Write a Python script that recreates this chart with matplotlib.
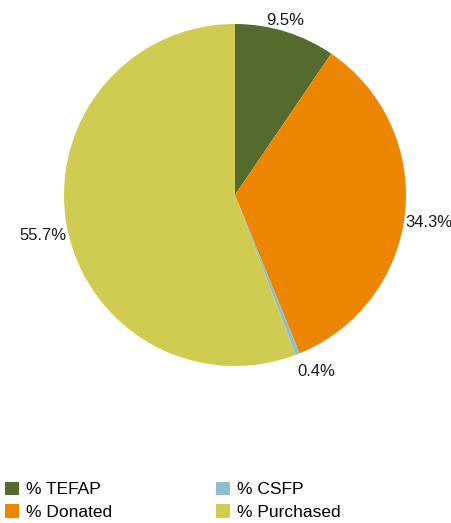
import numpy as np
import matplotlib.pyplot as plt

# share of food by source
categories = ['% TEFAP', '% Donated', '% CSFP', '% Purchased']
shares = [9.5, 34.3, 0.4, 55.7]
colors = ['#546B2D', '#EC8500', '#8DBFCD', '#D0CB51']

plt.rcParams['font.family'] = ['Liberation Sans', 'DejaVu Sans']

fig = plt.figure(figsize=(4.52, 5.23), dpi=100)
ax = fig.add_axes([64 / 452, 157 / 523, 342 / 452, 342 / 523])

wedges, _ = ax.pie(shares, colors=colors, startangle=90, counterclock=False,
                   radius=1, wedgeprops=dict(linewidth=0))
ax.set_xlim(-1, 1)
ax.set_ylim(-1, 1)
ax.set_aspect('equal')

# excel-like outside labels
for w, val in zip(wedges, shares):
    theta = np.deg2rad((w.theta1 + w.theta2) / 2)
    c, s = np.cos(theta), np.sin(theta)
    ha = 'left' if c > 0.3 else ('right' if c < -0.3 else 'center')
    va = 'bottom' if s > 0.3 else ('top' if s < -0.3 else 'center')
    ax.text(1.0 * c, 1.04 * s - 0.05 * abs(c), f'{val:.1f}%', ha=ha, va=va,
            fontsize=12, color='#1a1a1a', clip_on=False)

fig.legend(wedges, categories, loc='lower left', bbox_to_anchor=(-0.012, -0.014),
           ncol=2, frameon=False, fontsize=12.5, handlelength=0.8, handleheight=0.8,
           handletextpad=0.4, columnspacing=6.0, labelspacing=0.4,
           borderaxespad=0.2)

fig.savefig('out.png', dpi=100)
